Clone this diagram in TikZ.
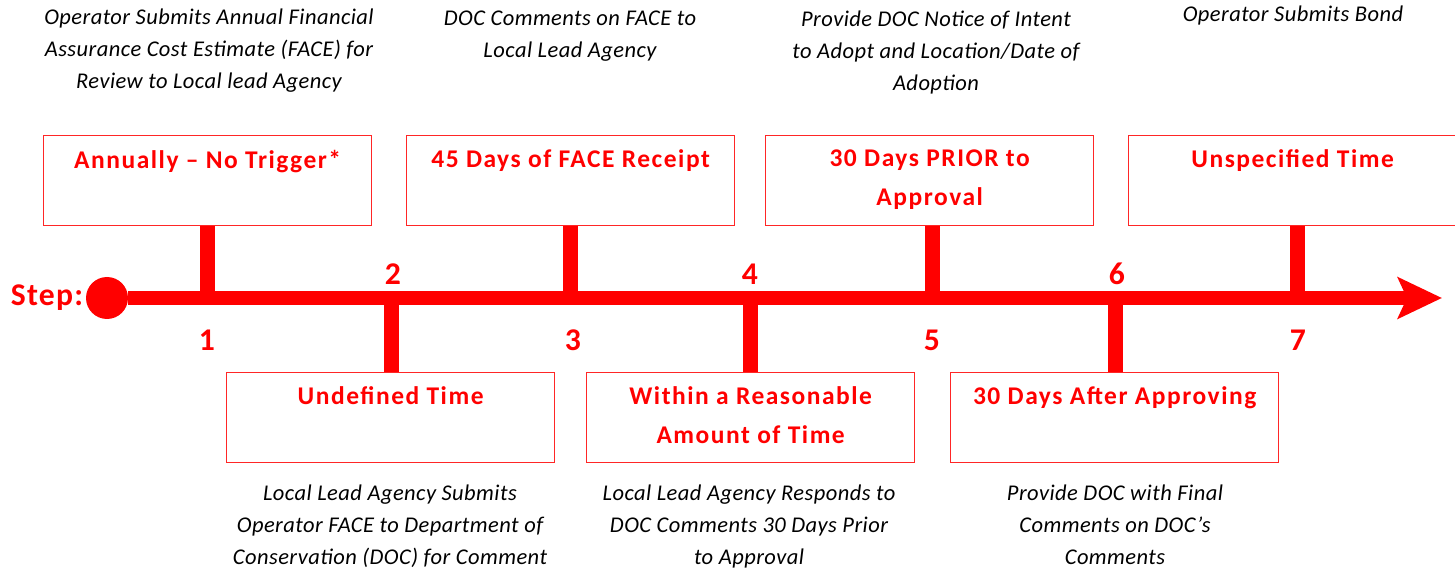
\documentclass[tikz,border=0pt]{standalone}
\usepackage{fontspec}
\setmainfont{Carlito}
\usetikzlibrary{arrows.meta,positioning}

\begin{document}
\begin{tikzpicture}[
    x=0.02cm, y=-0.02cm,
    box/.style={rectangle, draw=red!85!white, line width=0.8pt, minimum width=6.56cm, minimum height=1.8cm, inner sep=0pt, anchor=north west},
    title/.style={anchor=north, inner sep=0pt, align=center, text=red, font=\fontsize{14.5}{22}\selectfont\bfseries\addfontfeature{LetterSpace=6}},
    note/.style={anchor=north, inner sep=0pt, align=center, font=\fontsize{12.8}{18.2}\selectfont\itshape\addfontfeature{LetterSpace=2}},
    num/.style={inner sep=0pt, text=red, font=\fontsize{18}{20}\selectfont\bfseries},
    stem/.style={red, line width=0.3cm},
    axis/.style={red, line width=0.27cm, -{Stealth[length=0.88cm, width=0.82cm, inset=0.18cm]}}
]
\useasboundingbox (0,0) rectangle (1455,570);

% Zeitachse
\node[anchor=base, inner sep=0pt, text=red, font=\fontsize{18}{20}\selectfont\bfseries\addfontfeature{LetterSpace=4}] (steplbl) at (47,306) {Step:};
\node[circle, fill=red, minimum size=0.84cm, inner sep=0pt] (start) at (107,298) {};
\coordinate (tip) at (1442,298);

\coordinate (t1) at (207,298);
\coordinate (t2) at (391,298);
\coordinate (t3) at (570,298);
\coordinate (t4) at (750,298);
\coordinate (t5) at (932,298);
\coordinate (t6) at (1115,298);
\coordinate (t7) at (1297,298);

% Obere Kaesten (Schritte 1, 3, 5, 7)
\node[box] (b1) at (43,135) {};
\node[title] (h1) at ([yshift=-0.29cm]b1.north) {Annually – No Trigger*};
\node[box] (b3) at (406,135) {};
\node[title] (h3) at ([yshift=-0.29cm]b3.north) {45 Days of FACE Receipt};
\node[box] (b5) at (765,135) {};
\node[title] (h5) at ([yshift=-0.29cm]b5.north) {30 Days PRIOR to\\Approval};
\node[box] (b7) at (1128,135) {};
\node[title] (h7) at ([yshift=-0.29cm]b7.north) {Unspecified Time};

% Untere Kaesten (Schritte 2, 4, 6)
\node[box] (b2) at (226,372) {};
\node[title] (h2) at ([yshift=-0.29cm]b2.north) {Undefined Time};
\node[box] (b4) at (586,372) {};
\node[title] (h4) at ([yshift=-0.29cm]b4.north) {Within a Reasonable\\Amount of Time};
\node[box] (b6) at (950,372) {};
\node[title] (h6) at ([yshift=-0.29cm]b6.north) {30 Days After Approving};

% Stege
\draw[stem] (b1.south -| t1) -- (t1);
\draw[stem] (b3.south -| t3) -- (t3);
\draw[stem] (b5.south -| t5) -- (t5);
\draw[stem] (b7.south -| t7) -- (t7);
\draw[stem] (b2.north -| t2) -- (t2);
\draw[stem] (b4.north -| t4) -- (t4);
\draw[stem] (b6.north -| t6) -- (t6);

\draw[axis] (start) -- (tip);

% Nummern
\node[num] (s1) at (207,340) {1};
\node[num] (s2) at (393,274) {2};
\node[num] (s3) at (573,340) {3};
\node[num] (s4) at (750,274) {4};
\node[num] (s5) at (932,340) {5};
\node[num] (s6) at (1117,274) {6};
\node[num] (s7) at (1298,340) {7};

% Beschreibungen
\node[note] (n1) at (209,9) {Operator Submits Annual Financial\\Assurance Cost Estimate (FACE) for\\Review to Local lead Agency};
\node[note] (n3) at (570,11) {DOC Comments on FACE to\\Local Lead Agency};
\node[note] (n5) at (936,11) {Provide DOC Notice of Intent\\to Adopt and Location/Date of\\Adoption};
\node[note] (n7) at (1293,6) {Operator Submits Bond};

\node[note] (n2) at (390,485) {Local Lead Agency Submits\\Operator FACE to Department of\\Conservation (DOC) for Comment};
\node[note] (n4) at (749,485) {Local Lead Agency Responds to\\DOC Comments 30 Days Prior\\to Approval};
\node[note] (n6) at (1115,485) {Provide DOC with Final\\Comments on DOC’s\\Comments};

\end{tikzpicture}
\end{document}
